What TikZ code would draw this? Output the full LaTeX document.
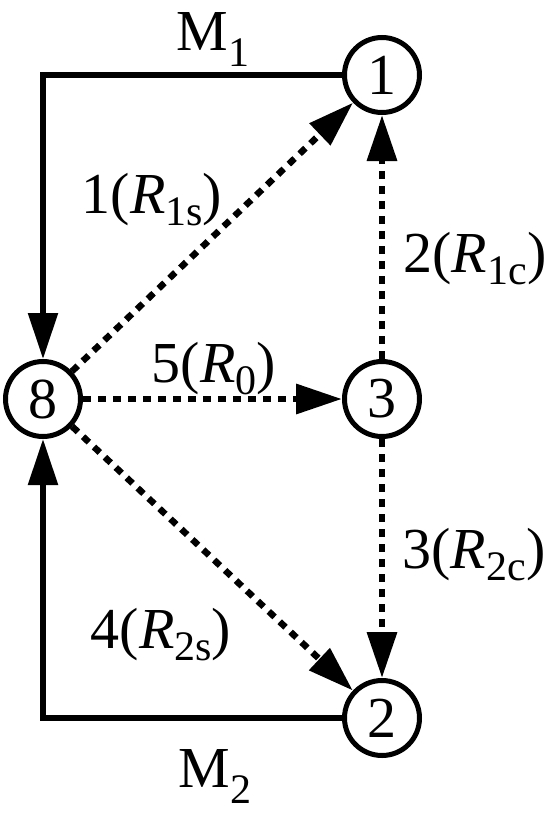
\documentclass[tikz,border=0pt]{standalone}
\usepackage{fontspec}
\setmainfont{Liberation Serif}
\usetikzlibrary{arrows.meta}
\newcommand\lowidx[2][12pt]{\raisebox{-#1}{\fontsize{42}{42}\selectfont #2}}
\begin{document}
\begin{tikzpicture}[x=1pt,y=-1pt,
	every node/.style={font=\fontsize{58}{60}\selectfont},
	state/.style={draw,circle,line width=5pt,minimum size=75pt,inner sep=0pt},
	link/.style={line width=5.5pt,-{Triangle[length=46pt,width=29pt]}},
	relay/.style={line width=6.5pt,dash pattern=on 8pt off 7pt,-{Triangle[length=46pt,width=29pt]}}]
	\useasboundingbox (0,0) rectangle (548,817);
	% stations
	\node[state] (n1) at (382,75) {1};
	\node[state] (n8) at (43,399) {8};
	\node[state] (n3) at (382,399) {3};
	\node[state] (n2) at (382,718) {2};
	% direct links
	\draw[link] (n1) -| (n8);
	\draw[link] (n2) -| (n8);
	% relayed links
	\draw[relay] (n8) -- (n1);
	\draw[relay] (n8) -- (n3);
	\draw[relay] (n8) -- (n2);
	\draw[relay] (n3) -- (n1);
	\draw[relay] (n3) -- (n2);
	% labels
	\node[anchor=base] (m1) at (213,50) {M\lowidx[16pt]{1}};
	\node[anchor=base] (m2) at (215,787) {M\lowidx[16pt]{2}};
	\node[anchor=base] (l1) at (152,213) {1(\textit{R}\lowidx{1s})};
	\node[anchor=base] (l2) at (475,272) {2(\textit{R}\lowidx{1c})};
	\node[anchor=base] (l5) at (214,382) {5(\textit{R}\lowidx{0})};
	\node[anchor=base] (l3) at (474,568) {3(\textit{R}\lowidx{2c})};
	\node[anchor=base] (l4) at (161,648) {4(\textit{R}\lowidx{2s})};
\end{tikzpicture}
\end{document}
